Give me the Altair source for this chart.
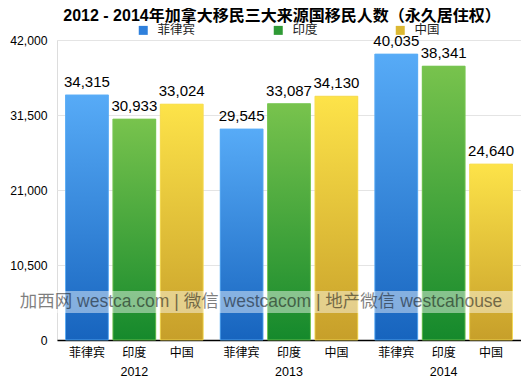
import altair as alt
import pandas as pd

years = ["2012", "2013", "2014"]
countries = ["菲律宾", "印度", "中国"]
philippines = [34315, 29545, 40035]
india = [30933, 33087, 38341]
china = [33024, 34130, 24640]
y_ticks = [0, 10500, 21000, 31500, 42000]
title_text = "2012 - 2014年加拿大移民三大来源国移民人数（永久居住权）"
watermark = "加西网 westca.com | 微信 westcacom | 地产微信 westcahouse"

series = {"菲律宾": philippines, "印度": india, "中国": china}
rows = []
for c in countries:
    for yr, v in zip(years, series[c]):
        rows.append({"year": yr, "country": c, "value": v})
df = pd.DataFrame(rows)

FONT = "Liberation Sans, Noto Sans CJK SC, sans-serif"
gradients = {
    "菲律宾": ("#57abf7", "#1764be"),
    "印度": ("#78c34d", "#15892c"),
    "中国": ("#fde349", "#c79f2a"),
}
strokes = {"菲律宾": "#5eb0f8", "印度": "#7ccb52", "中国": "#f8df55"}
legend_colors = ["#2f80dc", "#2f9a35", "#dcb833"]

x_enc = alt.X(
    "year:N", sort=years,
    scale=alt.Scale(domain=years, paddingInner=0.11, paddingOuter=0.055),
    axis=alt.Axis(title=None, labelAngle=0, ticks=False, domain=True,
                  domainColor="#000000", domainWidth=1.5, labelPadding=25,
                  labelFontSize=12.5, labelColor="#000000", labelFont=FONT,
                  grid=False),
)
xoff = alt.XOffset("country:N", sort=countries,
                   scale=alt.Scale(domain=countries, paddingInner=0.095, paddingOuter=0))
y_enc = alt.Y(
    "value:Q",
    scale=alt.Scale(domain=[0, 42000], nice=False),
    axis=alt.Axis(values=y_ticks, format=",", labelExpr="format(datum.value, ',')",
                  title=None, ticks=False, domain=False,
                  labelPadding=10, labelFontSize=12.2, gridColor="#e4e4e4",
                  labelColor="#000000", labelFont=FONT),
)

base = alt.Chart(df)

legend_bars = base.mark_bar().encode(
    x=x_enc, xOffset=xoff, y=y_enc,
    color=alt.Color(
        "country:N", sort=countries,
        scale=alt.Scale(domain=countries, range=legend_colors),
        legend=alt.Legend(
            orient="none", legendX=80, legendY=-16, direction="horizontal",
            title=None, symbolType="square", symbolSize=81, symbolStrokeWidth=0,
            labelFontSize=12.5, labelOffset=8, columnPadding=76, labelFont=FONT,
            labelColor="#222222",
        ),
    ),
)

layers = [legend_bars]
for c in countries:
    top, bottom = gradients[c]
    grad = alt.Gradient(
        gradient="linear",
        stops=[alt.GradientStop(color=top, offset=0), alt.GradientStop(color=bottom, offset=1)],
        x1=0, x2=0, y1=0, y2=1,
    )
    layers.append(
        base.transform_filter(alt.datum.country == c)
        .mark_bar(color=grad, stroke=strokes[c], strokeWidth=1, strokeOpacity=0.8)
        .encode(x=x_enc, xOffset=xoff, y=y_enc)
    )

wm_df = pd.DataFrame({"t": [watermark]})
band = alt.Chart(wm_df).mark_rect(color="white", opacity=0.45).encode(
    x=alt.value(0), x2=alt.value(464), y=alt.value(251), y2=alt.value(273)
)
wm_text = alt.Chart(wm_df).mark_text(
    fontSize=17.5, color="#000000", opacity=0.5, font=FONT, baseline="middle", align="center"
).encode(x=alt.value(204), y=alt.value(262), text="t:N")

value_labels = base.mark_text(dy=-5, baseline="bottom", fontSize=15, font=FONT, color="#000000").encode(
    x=x_enc, xOffset=xoff, y=y_enc, text=alt.Text("value:Q", format=",")
)
cat_labels = base.mark_text(dy=13, baseline="middle", fontSize=12, font=FONT, color="#000000").encode(
    x=x_enc, xOffset=xoff, y=alt.value(300), text="country:N"
)

chart = alt.layer(*layers, band, wm_text, value_labels, cat_labels).properties(
    width=464, height=300,
    title=alt.TitleParams(text=title_text, fontSize=16, fontWeight="bold", font=FONT,
                          anchor="middle", frame="group", offset=0, dx=-7, color="#000000"),
    autosize=alt.AutoSizeParams(type="none"),
    padding={"left": 49, "top": 32, "right": 0, "bottom": 40},
).configure_view(stroke=None).configure(background="white")

chart.save("out.html", embed_options={"renderer": "svg", "actions": False})
